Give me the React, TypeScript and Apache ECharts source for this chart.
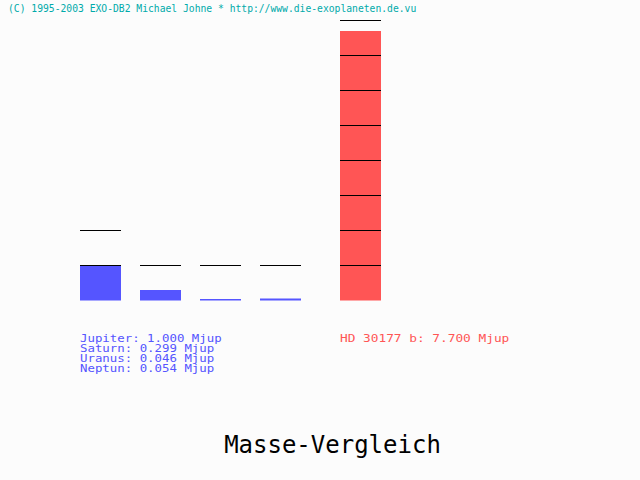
import React, { useEffect, useRef } from "react";
import * as echarts from "echarts";

const solarNames = ["Jupiter", "Saturn", "Uranus", "Neptun"];
const solarMasses = [1.0, 0.299, 0.046, 0.054];
const exoNames = ["HD 30177 b"];
const exoMasses = [7.7];
const unit = "Mjup";
const copyright = "(C) 1995-2003 EXO-DB2 Michael Johne * http://www.die-exoplaneten.de.vu";
const titleText = "Masse-Vergleich";
const yMax = 8;

const FONT = "'DejaVu Sans Mono', 'Liberation Mono', monospace";
const BLUE = "#5555ff";
const RED = "#ff5555";
const CYAN = "#00aaaa";
const BAR_W = 41;

function markers(masses: number[]) {
  const out: number[][] = [];
  masses.forEach((m, i) => {
    for (let k = 1; k <= Math.floor(m) + 1; k++) out.push([i, k]);
  });
  return out;
}

const renderMarker = (_p: any, api: any) => {
  const c = api.coord([api.value(0), api.value(1)]);
  return {
    type: "line",
    shape: { x1: c[0] - BAR_W / 2, y1: c[1], x2: c[0] + BAR_W / 2, y2: c[1] },
    style: { stroke: "#000", lineWidth: 1 },
  };
};

export default function App() {
  const ref = useRef<HTMLDivElement>(null);
  useEffect(() => {
    document.body.style.margin = "0";
    document.body.style.background = "#fcfcfc";
    const chart = echarts.init(ref.current!, null, { renderer: "svg" });
    const label = (n: string, m: number) => `${n}: ${m.toFixed(3)} ${unit}`;
    chart.setOption({
      animation: false,
      backgroundColor: "#fcfcfc",
      grid: [
        { left: 70.5, top: 20.5, width: 240, height: 280 },
        { left: 330.5, top: 20.5, width: 60, height: 280 },
      ],
      xAxis: [
        { type: "category", gridIndex: 0, data: solarNames, show: false },
        { type: "category", gridIndex: 1, data: exoNames, show: false },
      ],
      yAxis: [
        { type: "value", gridIndex: 0, min: 0, max: yMax, show: false },
        { type: "value", gridIndex: 1, min: 0, max: yMax, show: false },
      ],
      series: [
        {
          type: "bar", xAxisIndex: 0, yAxisIndex: 0, data: solarMasses,
          barWidth: BAR_W, itemStyle: { color: BLUE }, z: 1,
        },
        {
          type: "bar", xAxisIndex: 1, yAxisIndex: 1, data: exoMasses,
          barWidth: BAR_W, itemStyle: { color: RED }, z: 1,
        },
        {
          type: "custom", xAxisIndex: 0, yAxisIndex: 0, data: markers(solarMasses),
          renderItem: renderMarker, z: 5, silent: true,
        },
        {
          type: "custom", xAxisIndex: 1, yAxisIndex: 1, data: markers(exoMasses),
          renderItem: renderMarker, z: 5, silent: true,
        },
      ],
      graphic: [
        {
          type: "text", x: 8, y: 8,
          style: { text: copyright, fill: CYAN, font: `9.7px ${FONT}`, verticalAlign: "middle" },
        },
        ...solarNames.map((n, i) => ({
          type: "text", x: 80, y: 339 + i * 10, scaleX: 1.24,
          style: {
            text: label(n, solarMasses[i]), fill: BLUE, font: `10px ${FONT}`,
            lineHeight: 10, verticalAlign: "middle",
          },
        })),
        ...exoNames.map((n, i) => ({
          type: "text", x: 340, y: 339 + i * 10, scaleX: 1.28,
          style: {
            text: label(n, exoMasses[i]), fill: RED, font: `10px ${FONT}`,
            lineHeight: 10, verticalAlign: "middle",
          },
        })),
        {
          type: "text", x: 332.5, y: 444.5,
          style: {
            text: titleText, fill: "#000", font: `24px ${FONT}`,
            align: "center", verticalAlign: "middle",
          },
        },
      ],
    });
    return () => chart.dispose();
  }, []);
  return <div ref={ref} style={{ width: 640, height: 480 }} />;
}
